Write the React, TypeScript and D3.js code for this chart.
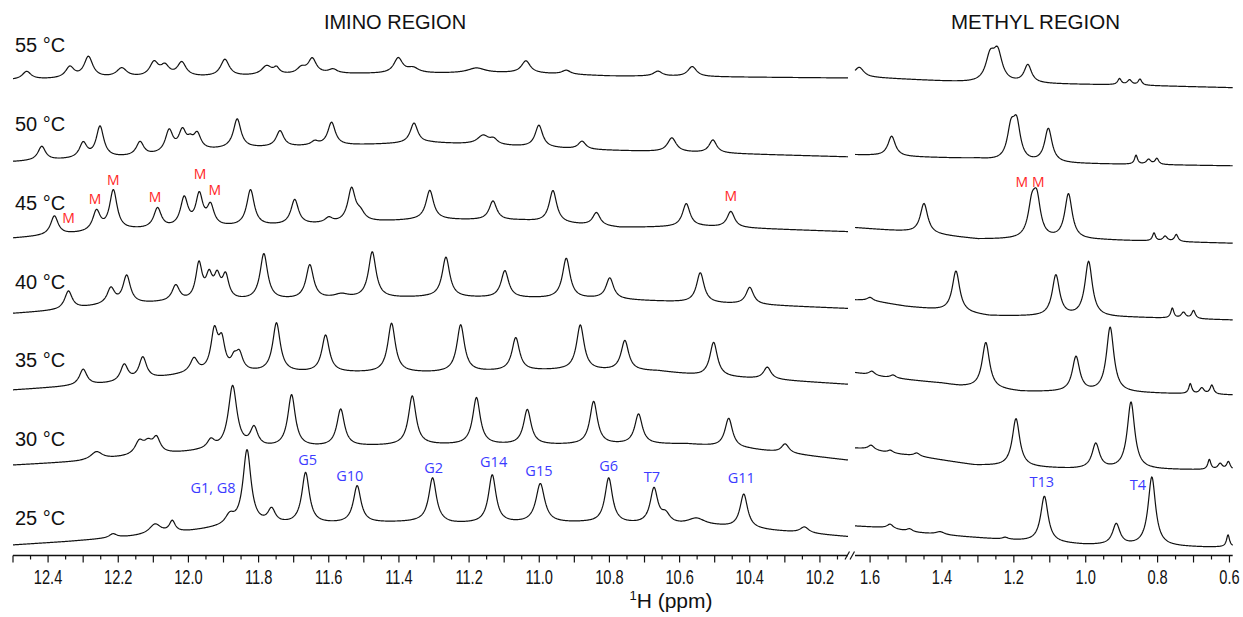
import React from "react";
import * as d3 from "d3";

// ---------- DATA ----------
const temperatures = ["55 °C", "50 °C", "45 °C", "40 °C", "35 °C", "30 °C", "25 °C"];

// Imino region peaks: [ppm, intensity, linewidth (ppm)]
const imino55 = [
  [12.461, 8, 0.03], [12.338, 11, 0.03], [12.285, 21, 0.03], [12.19, 9, 0.035], [12.098, 14, 0.03],
  [12.067, 10, 0.03], [12.019, 14, 0.03], [11.896, 17, 0.03], [11.777, 9, 0.035], [11.749, 6, 0.02],
  [11.678, 6, 0.03], [11.647, 15, 0.028], [11.588, 4, 0.03], [11.402, 15, 0.03], [11.36, 5, 0.04],
  [11.179, 5, 0.06], [11.038, 12, 0.03], [10.923, 4, 0.03], [10.662, 5, 0.03], [10.564, 10, 0.03],
];
const imino50 = [
  [12.418, 14, 0.026], [12.3, 15, 0.026], [12.252, 31, 0.026], [12.138, 14, 0.026], [12.055, 22, 0.026],
  [12.017, 20, 0.026], [11.995, 7, 0.02], [11.975, 16, 0.026], [11.861, 29, 0.026], [11.739, 16, 0.026],
  [11.64, 4, 0.026], [11.592, 23, 0.026], [11.357, 20, 0.026], [11.16, 9, 0.04], [11.13, 5, 0.026],
  [11.001, 22, 0.026], [10.878, 8, 0.026], [10.622, 14, 0.03], [10.505, 13, 0.026],
];
const imino45 = [
  [12.382, 19, 0.026], [12.262, 20, 0.026], [12.214, 40, 0.026], [12.088, 20, 0.026], [12.012, 29, 0.026],
  [11.969, 31, 0.024], [11.937, 20, 0.024], [11.823, 36, 0.026], [11.697, 25, 0.026], [11.6, 5, 0.026],
  [11.535, 33, 0.026], [11.51, 8, 0.03], [11.312, 29, 0.026], [11.132, 19, 0.026], [10.961, 32, 0.026],
  [10.837, 13, 0.026], [10.581, 23, 0.026], [10.454, 16, 0.026],
];
const imino40 = [
  [12.342, 18, 0.026], [12.221, 16, 0.026], [12.176, 28, 0.026], [12.036, 16, 0.026], [11.97, 36, 0.022],
  [11.941, 22, 0.022], [11.918, 21, 0.022], [11.894, 23, 0.022], [11.785, 46, 0.026], [11.654, 34, 0.026],
  [11.564, 4, 0.05], [11.476, 46, 0.026], [11.266, 40, 0.026], [11.098, 27, 0.026], [10.923, 40, 0.026],
  [10.799, 21, 0.026], [10.541, 30, 0.026], [10.4, 17, 0.026],
];
const imino35 = [
  [12.3, 16, 0.026], [12.183, 17, 0.026], [12.13, 22, 0.026], [11.984, 14, 0.026], [11.926, 40, 0.024],
  [11.905, 28, 0.022], [11.87, 10, 0.02], [11.855, 17, 0.024], [11.749, 49, 0.026], [11.609, 37, 0.026],
  [11.421, 49, 0.026], [11.224, 47, 0.026], [11.067, 33, 0.026], [10.883, 45, 0.026], [10.756, 30, 0.026],
  [10.503, 34, 0.026], [10.35, 12, 0.026],
];
const imino30 = [
  [12.262, 8, 0.04], [12.14, 13, 0.03], [12.115, 10, 0.03], [12.091, 15, 0.026], [11.936, 9, 0.026],
  [11.874, 63, 0.03], [11.813, 19, 0.026], [11.706, 52, 0.026], [11.566, 37, 0.026], [11.362, 49, 0.026],
  [11.179, 47, 0.026], [11.034, 35, 0.026], [10.845, 43, 0.026], [10.717, 30, 0.026], [10.46, 29, 0.026],
  [10.299, 9, 0.026],
];
const imino25 = [
  [12.215, 4, 0.026], [12.095, 10, 0.04], [12.046, 11, 0.02], [11.882, 9, 0.03], [11.833, 75, 0.028],
  [11.763, 14, 0.026], [11.666, 51, 0.026], [11.519, 37, 0.026], [11.304, 44, 0.026], [11.134, 48, 0.026],
  [10.997, 39, 0.03], [10.802, 45, 0.026], [10.673, 35, 0.026], [10.64, 9, 0.03], [10.552, 7, 0.06],
  [10.417, 34, 0.026], [10.244, 6, 0.03],
];

// Imino baselines: [ppm, offset]
const iminoBase55 = [[12.5, -2], [12.2, 0], [11.9, 1], [11.6, 4], [11.3, 4.5], [11.05, 5], [10.8, 2], [10.12, 0]];
const iminoBase50 = [[12.5, -6], [12.14, -1], [11.88, 7], [11.31, 13], [11.17, 11], [10.86, 6], [10.54, 3], [10.12, -1]];
const iminoBase45 = [[12.5, -4.6], [12.16, 3.5], [11.68, 8.5], [11.32, 14], [11.05, 13], [10.77, 6], [10.54, 7], [10.12, 2]];
const iminoBase40 = [[12.5, -2], [12.37, 1], [12.25, 5.5], [12.08, 8.5], [11.83, 10.5], [11.32, 14], [10.83, 12.5], [10.54, 8.5], [10.37, 6.5], [10.12, 3]];
const iminoBase35 = [[12.5, -0.7], [12.35, 2.6], [12.2, 6], [12.0, 15], [11.8, 16.5], [11.3, 16.5], [10.94, 19], [10.66, 18], [10.54, 13.5], [10.32, 9.3], [10.12, 5]];
const iminoBase30 = [[12.5, 2], [12.31, 5.5], [12.2, 9], [11.97, 15.5], [11.75, 19], [11.32, 22], [10.96, 22], [10.58, 23], [10.4, 18], [10.12, 7]];
const iminoBase25 = [[12.5, 0], [12.35, 3.3], [12.16, 8.3], [12.0, 13.3], [11.89, 18], [11.73, 20], [11.32, 23], [11.25, 21], [10.87, 22], [10.49, 18.3], [10.3, 13.3], [10.12, 8.3]];

// Methyl region peaks
const methyl55 = [[1.63, 9, 0.03], [1.266, 24, 0.03], [1.245, 28, 0.03], [1.161, 18, 0.025], [0.906, 6, 0.012], [0.878, 5, 0.015], [0.849, 6, 0.012]];
const methyl50 = [[1.54, 20, 0.025], [1.208, 30, 0.025], [1.192, 35, 0.025], [1.104, 34, 0.025], [0.86, 9, 0.01], [0.825, 5, 0.015], [0.802, 6, 0.012]];
const methyl45 = [[1.45, 30, 0.025], [1.15, 30, 0.025], [1.136, 36, 0.025], [1.048, 45, 0.025], [0.81, 8, 0.01], [0.779, 5, 0.015], [0.748, 7, 0.012]];
const methyl40 = [[1.6, 3, 0.02], [1.361, 41, 0.025], [1.083, 41, 0.025], [0.992, 55, 0.025], [0.759, 10, 0.01], [0.728, 6, 0.015], [0.7, 8, 0.012]];
const methyl35 = [[1.595, 4, 0.02], [1.536, 3, 0.02], [1.278, 46, 0.025], [1.027, 35, 0.025], [0.932, 65, 0.025], [0.709, 10, 0.01], [0.677, 6, 0.015], [0.649, 9, 0.012]];
const methyl30 = [[1.597, 4, 0.02], [1.544, 3, 0.02], [1.47, 3, 0.02], [1.194, 48, 0.025], [0.972, 25, 0.025], [0.874, 67, 0.025], [0.656, 10, 0.01], [0.626, 6, 0.015], [0.603, 8, 0.012]];
const methyl25 = [[1.544, 4, 0.02], [1.49, 3, 0.02], [1.405, 3, 0.03], [1.224, 2, 0.02], [1.115, 46, 0.025], [0.915, 21, 0.025], [0.816, 69, 0.025], [0.604, 12, 0.01]];

const methylBase55 = [[1.642, 2], [1.6, 0.5], [1.3, -5], [0.9, -7], [0.59, -9.7]];
const methylBase50 = [[1.642, 1], [1.5, -1], [1.3, -3], [1.2, -7], [0.59, -10]];
const methylBase45 = [[1.642, 6], [1.5, 2], [1.3, -5.6], [0.96, -6.3], [0.59, -9.6]];
const methylBase40 = [[1.642, 11.5], [1.6, 11], [1.5, 5], [1.4, 1], [1.27, -4.5], [0.87, -6], [0.59, -8.5]];
const methylBase35 = [[1.642, 16.6], [1.56, 12], [1.4, 6], [1.35, 3], [1.18, -2.4], [0.85, -3.7], [0.59, -5.7]];
const methylBase30 = [[1.642, 19], [1.6, 18], [1.55, 14], [1.47, 11], [1.31, 2], [1.04, -1.8], [0.59, -3]];
const methylBase25 = [[1.642, 19], [1.55, 17], [1.49, 13], [1.4, 10], [1.22, 5], [1.0, 0], [0.66, -2.3], [0.59, -2]];

const iminoPeaks = [imino55, imino50, imino45, imino40, imino35, imino30, imino25];
const iminoBases = [iminoBase55, iminoBase50, iminoBase45, iminoBase40, iminoBase35, iminoBase30, iminoBase25];
const methylPeaks = [methyl55, methyl50, methyl45, methyl40, methyl35, methyl30, methyl25];
const methylBases = [methylBase55, methylBase50, methylBase45, methylBase40, methylBase35, methylBase30, methylBase25];

// Tick labels
const iminoTickLabels = [12.4, 12.2, 12.0, 11.8, 11.6, 11.4, 11.2, 11.0, 10.8, 10.6, 10.4, 10.2];
const methylTickLabels = [1.6, 1.4, 1.2, 1.0, 0.8, 0.6];

// Assignments (25 °C trace): [label, ppm, level]
const iminoAssign = [
  ["G1, G8", 11.93, 52], ["G5", 11.66, 80], ["G10", 11.54, 64], ["G2", 11.301, 72], ["G14", 11.13, 78],
  ["G15", 11.001, 69], ["G6", 10.802, 74], ["T7", 10.679, 63], ["G11", 10.424, 62],
];
const methylAssign = [["T13", 1.122, 58], ["T4", 0.855, 55]];
// Minor-species labels (45 °C trace): [ppm, level]
const iminoMinor = [[12.342, 11], [12.266, 30], [12.214, 49], [12.095, 32], [11.967, 55], [11.925, 39], [10.454, 33]];
const methylMinor = [[1.178, 47], [1.132, 47]];

// ---------- CHART ----------
const W = 1243;
const H = 617;
const iminoDomain = [12.5, 10.12];
const methylDomain = [1.642, 0.591];

const xImino = d3.scaleLinear().domain(iminoDomain).range([13, 848]);
const xMethyl = d3.scaleLinear().domain(methylDomain).range([855, 1232.7]);
const yTrace = d3.scalePoint().domain(temperatures).range([78, 545]);
const yLabel = d3.scalePoint().domain(temperatures).range([52, 525]);
const amp = d3.scaleLinear().domain([0, 100]).range([0, -100]);

const AXIS_Y = 555.5;
const BLUE = "#3b3bff";
const RED = "#ff2626";
const SANS = "'Liberation Sans', Arial, Helvetica, sans-serif";
const LABEL_FONT = "'Open Sans', 'Noto Sans', sans-serif";

function tracePath(x, peaks, base, y0) {
  const [d0, d1] = x.domain();
  const [r0, r1] = x.range();
  const n = Math.round((r1 - r0) * 2);
  const baseScale = d3.scaleLinear().domain(base.map((b) => b[0])).range(base.map((b) => b[1])).clamp(true);
  const pts = d3.range(n + 1).map((i) => {
    const p = d0 + ((d1 - d0) * i) / n;
    let v = baseScale(p);
    for (const [c, h, w] of peaks) {
      const g = w / 2;
      v += (h * g * g) / (g * g + (p - c) * (p - c));
    }
    return [p, v];
  });
  const line = d3
    .line()
    .x((d) => x(d[0]))
    .y((d) => y0 + amp(d[1]));
  return line(pts);
}

function Axis({ x, labels }) {
  const [d0, d1] = x.domain();
  const lo = Math.min(d0, d1);
  const hi = Math.max(d0, d1);
  const start = Math.ceil(lo * 20 - 1e-6);
  const end = Math.floor(hi * 20 + 1e-6);
  const ticks = d3.range(start, end + 1).map((k) => k / 20);
  const [r0, r1] = x.range();
  return (
    <g>
      <line x1={r0} x2={r1} y1={AXIS_Y} y2={AXIS_Y} stroke="#111" strokeWidth={1.3} />
      {ticks.map((t) => {
        const major = Math.abs(Math.round(t * 10) - t * 10) < 1e-6;
        return (
          <line
            key={t}
            x1={x(t)}
            x2={x(t)}
            y1={AXIS_Y}
            y2={AXIS_Y + (major ? 7 : 4)}
            stroke="#111"
            strokeWidth={1.2}
          />
        );
      })}
      {labels.map((t) => (
        <text
          key={t}
          transform={`translate(${x(t)},584) scale(0.75,1)`}
          textAnchor="middle"
          fontFamily={SANS}
          fontSize={19.5}
          fill="#111"
        >
          {t.toFixed(1)}
        </text>
      ))}
    </g>
  );
}

export default function App() {
  return (
    <svg
      width={W}
      height={H}
      viewBox={`0 0 ${W} ${H}`}
      style={{ position: "absolute", left: 0, top: 0, display: "block", background: "#fff" }}
    >
      <rect width={W} height={H} fill="#fff" />
      <text x={395} y={29} textAnchor="middle" fontFamily={SANS} fontSize={20} fill="#111">
        IMINO REGION
      </text>
      <text x={1035.5} y={29} textAnchor="middle" fontFamily={SANS} fontSize={20.5} fill="#111">
        METHYL REGION
      </text>

      {temperatures.map((t, i) => {
        const y0 = yTrace(t);
        return (
          <g key={t}>
            <text x={15} y={yLabel(t)} fontFamily={SANS} fontSize={20} fill="#111">
              {t}
            </text>
            <path d={tracePath(xImino, iminoPeaks[i], iminoBases[i], y0)} fill="none" stroke="#111" strokeWidth={1.2} strokeLinejoin="round" />
            <path d={tracePath(xMethyl, methylPeaks[i], methylBases[i], y0)} fill="none" stroke="#111" strokeWidth={1.2} strokeLinejoin="round" />
          </g>
        );
      })}

      {iminoAssign.map(([lab, p, lv]) => (
        <text key={lab} x={xImino(p)} y={yTrace("25 °C") + amp(lv)} textAnchor="middle" fontFamily={LABEL_FONT} fontSize={14.5} fill={BLUE}>
          {lab}
        </text>
      ))}
      {methylAssign.map(([lab, p, lv]) => (
        <text key={lab} x={xMethyl(p)} y={yTrace("25 °C") + amp(lv)} textAnchor="middle" fontFamily={LABEL_FONT} fontSize={14.5} fill={BLUE}>
          {lab}
        </text>
      ))}
      {iminoMinor.map(([p, lv], k) => (
        <text key={"im" + k} x={xImino(p)} y={yTrace("45 °C") + amp(lv)} textAnchor="middle" fontFamily={LABEL_FONT} fontSize={14} fill={RED}>
          M
        </text>
      ))}
      {methylMinor.map(([p, lv], k) => (
        <text key={"mm" + k} x={xMethyl(p)} y={yTrace("45 °C") + amp(lv)} textAnchor="middle" fontFamily={LABEL_FONT} fontSize={14} fill={RED}>
          M
        </text>
      ))}

      <Axis x={xImino} labels={iminoTickLabels} />
      <Axis x={xMethyl} labels={methylTickLabels} />
      {/* axis break marks */}
      <line x1={845} y1={559.5} x2={849.5} y2={551.5} stroke="#111" strokeWidth={1.2} />
      <line x1={850} y1={559.5} x2={854.5} y2={551.5} stroke="#111" strokeWidth={1.2} />

      <text x={671} y={608} textAnchor="middle" fontFamily={SANS} fontSize={21} fill="#111">
        <tspan fontSize={13} dy={-8}>1</tspan>
        <tspan dy={8}>H (ppm)</tspan>
      </text>
    </svg>
  );
}
